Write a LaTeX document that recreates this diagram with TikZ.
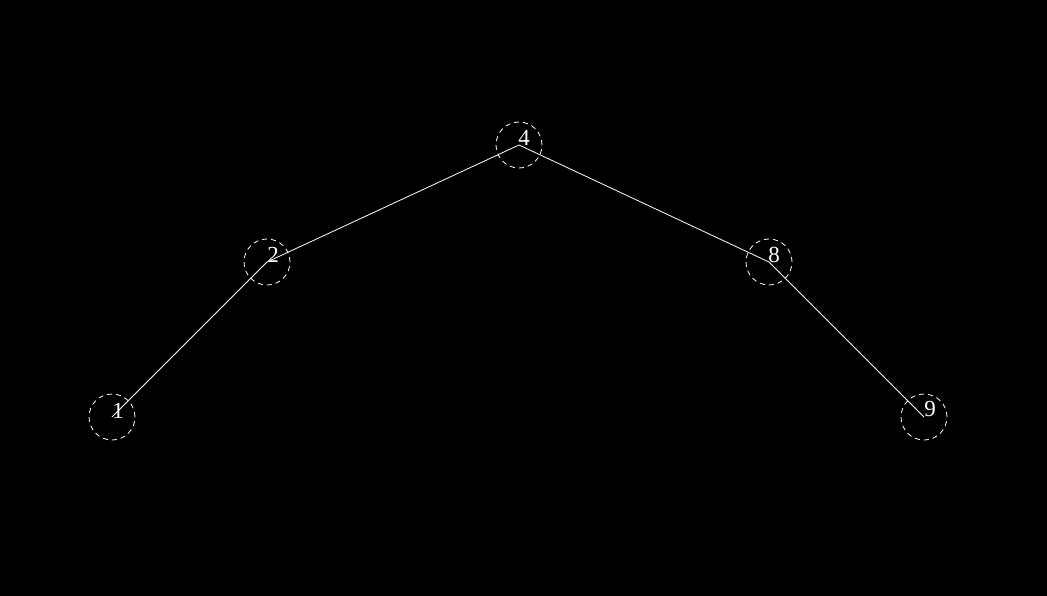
\documentclass[tikz,border=0pt]{standalone}
\usepackage{fontspec}
\setmainfont{Liberation Serif}
\begin{document}
\begin{tikzpicture}[x=1pt,y=-1pt,
  ring/.style={circle,draw=white,dash pattern=on 5pt off 4pt,line width=0.8pt,minimum size=46pt,inner sep=0pt},
  num/.style={text=white,font=\fontsize{23}{23}\selectfont,inner sep=0pt},
  edge/.style={draw=white,line width=0.8pt}]
\fill[black] (0,0) rectangle (1047,596);
\useasboundingbox (0,0) rectangle (1047,596);
\node[ring] (n1) at (112,417) {};
\node[ring] (n2) at (267,262) {};
\node[ring] (n4) at (519,145) {};
\node[ring] (n8) at (769,262) {};
\node[ring] (n9) at (924,417) {};
\draw[edge] (n1.center) -- (n2.center) -- (n4.center) -- (n8.center) -- (n9.center);
\node[num] (t1) at (118,411) {1};
\node[num] (t2) at (273,255) {2};
\node[num] (t4) at (524,138) {4};
\node[num] (t8) at (774,255) {8};
\node[num] (t9) at (930,409) {9};
\end{tikzpicture}
\end{document}
